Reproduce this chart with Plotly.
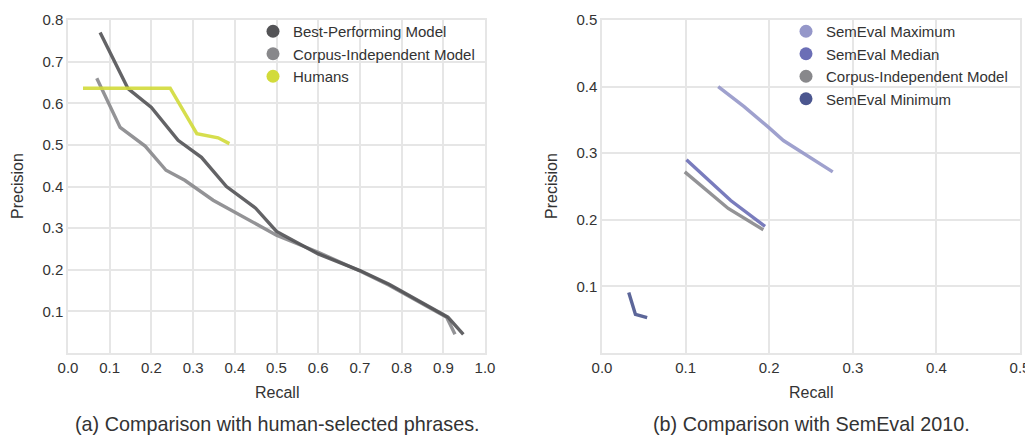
import plotly.graph_objects as go

# ---- Data: (a) human-selected phrases ----
best_recall = [0.077, 0.144, 0.20, 0.264, 0.32, 0.38, 0.45, 0.50, 0.60, 0.65, 0.70, 0.77, 0.911, 0.948]
best_prec = [0.77, 0.635, 0.59, 0.511, 0.47, 0.40, 0.348, 0.292, 0.238, 0.218, 0.198, 0.165, 0.086, 0.045]

ci_recall_a = [0.069, 0.125, 0.185, 0.235, 0.28, 0.348, 0.50, 0.60, 0.70, 0.77, 0.908, 0.928]
ci_prec_a = [0.66, 0.542, 0.497, 0.439, 0.415, 0.367, 0.283, 0.242, 0.197, 0.163, 0.086, 0.045]

hum_recall = [0.036, 0.245, 0.309, 0.36, 0.387]
hum_prec = [0.636, 0.636, 0.527, 0.517, 0.503]

# ---- Data: (b) SemEval 2010 ----
max_recall = [0.139, 0.17, 0.20, 0.217, 0.276]
max_prec = [0.40, 0.37, 0.338, 0.319, 0.272]

med_recall = [0.101, 0.154, 0.195]
med_prec = [0.29, 0.229, 0.19]

ci_recall_b = [0.099, 0.151, 0.193]
ci_prec_b = [0.272, 0.217, 0.185]

min_recall = [0.032, 0.040, 0.054]
min_prec = [0.091, 0.058, 0.053]

x_ticks_a = [0.0, 0.1, 0.2, 0.3, 0.4, 0.5, 0.6, 0.7, 0.8, 0.9, 1.0]
y_ticks_a = [0.1, 0.2, 0.3, 0.4, 0.5, 0.6, 0.7, 0.8]
x_ticks_b = [0.0, 0.1, 0.2, 0.3, 0.4, 0.5]
y_ticks_b = [0.1, 0.2, 0.3, 0.4, 0.5]

C_BEST = "#535356"
C_CI = "#88888b"
C_HUM = "#d2db3a"
C_MAX = "#9597c9"
C_MED = "#6b6eb6"
C_MIN = "#4b568f"

FONT = "Liberation Sans, Arial, sans-serif"
TXT = "#333333"
GRID = "#e6e6e6"

W, H, OFF = 1033, 435, 8  # page body margin offset


def px(vx):
    return (vx - OFF) / W


def py(vy):
    return 1 - (vy - OFF) / H


fig = go.Figure()


def add_line(x, y, color, xa, ya, opacity=0.9):
    fig.add_trace(go.Scatter(x=x, y=y, mode="lines", line=dict(color=color, width=3.4),
                             opacity=opacity, showlegend=False, xaxis=xa, yaxis=ya,
                             hoverinfo="skip"))


def add_key(color, name, xa, ya, legend):
    fig.add_trace(go.Scatter(x=[None], y=[None], mode="markers",
                             marker=dict(color=color, size=13), name=name,
                             xaxis=xa, yaxis=ya, legend=legend, legendgroup=name + legend))


add_line(ci_recall_a, ci_prec_a, C_CI, "x", "y")
add_line(best_recall, best_prec, C_BEST, "x", "y")
add_line(hum_recall, hum_prec, C_HUM, "x", "y")
add_key(C_BEST, "Best-Performing Model", "x", "y", "legend")
add_key(C_CI, "Corpus-Independent Model", "x", "y", "legend")
add_key(C_HUM, "Humans", "x", "y", "legend")

add_line(max_recall, max_prec, C_MAX, "x2", "y2")
add_line(med_recall, med_prec, C_MED, "x2", "y2")
add_line(ci_recall_b, ci_prec_b, C_CI, "x2", "y2")
add_line(min_recall, min_prec, C_MIN, "x2", "y2")
add_key(C_MAX, "SemEval Maximum", "x2", "y2", "legend2")
add_key(C_MED, "SemEval Median", "x2", "y2", "legend2")
add_key(C_CI, "Corpus-Independent Model", "x2", "y2", "legend2")
add_key(C_MIN, "SemEval Minimum", "x2", "y2", "legend2")

axis_common = dict(showgrid=True, gridcolor=GRID, gridwidth=1.5, zeroline=False,
                   showline=True, linecolor=GRID, linewidth=1.5, mirror=True,
                   ticks="", automargin=False, tickfont=dict(family=FONT, size=15, color=TXT))

ydom = [py(353), py(20)]

fig.update_layout(
    width=W, height=H,
    margin=dict(l=0, r=0, t=0, b=0, autoexpand=False),
    paper_bgcolor="white", plot_bgcolor="white",
    font=dict(family=FONT, color=TXT),
    xaxis=dict(domain=[px(68), px(485)], range=[0, 1.0], tickvals=x_ticks_a,
               ticktext=[f"{v:.1f}" for v in x_ticks_a], anchor="y", **axis_common),
    yaxis=dict(domain=ydom, range=[0, 0.8], tickvals=y_ticks_a,
               ticktext=[f"{v:.1f}" for v in y_ticks_a], anchor="x", **axis_common),
    xaxis2=dict(domain=[px(602), px(1020)], range=[0, 0.5], tickvals=x_ticks_b,
                ticktext=[f"{v:.1f}" for v in x_ticks_b], anchor="y2", **axis_common),
    yaxis2=dict(domain=ydom, range=[0, 0.5], tickvals=y_ticks_b,
                ticktext=[f"{v:.1f}" for v in y_ticks_b], anchor="x2", **axis_common),
    legend=dict(x=px(253), y=py(15), xanchor="left", yanchor="top",
                bgcolor="rgba(0,0,0,0)", font=dict(family=FONT, size=15, color=TXT),
                traceorder="normal", tracegroupgap=0, itemsizing="trace"),
    legend2=dict(x=px(786), y=py(15), xanchor="left", yanchor="top",
                 bgcolor="rgba(0,0,0,0)", font=dict(family=FONT, size=15, color=TXT),
                 traceorder="normal", tracegroupgap=0, itemsizing="trace"),
)

ann = [
    dict(text="Recall", x=px((68 + 485) / 2), y=py(392), size=16),
    dict(text="Recall", x=px((602 + 1020) / 2), y=py(392), size=16),
    dict(text="(a) Comparison with human-selected phrases.", x=px(277), y=py(424), size=19.8),
    dict(text="(b) Comparison with SemEval 2010.", x=px(811), y=py(424), size=19.8),
]
for a in ann:
    fig.add_annotation(text=a["text"], x=a["x"], y=a["y"], xref="paper", yref="paper",
                       showarrow=False, xanchor="center", yanchor="middle",
                       font=dict(family=FONT, size=a["size"], color=TXT))
for xp in (17, 551):
    fig.add_annotation(text="Precision", x=px(xp), y=py(186), xref="paper", yref="paper",
                       showarrow=False, textangle=-90, xanchor="center", yanchor="middle",
                       font=dict(family=FONT, size=16, color=TXT))

fig.write_html("out.html")
